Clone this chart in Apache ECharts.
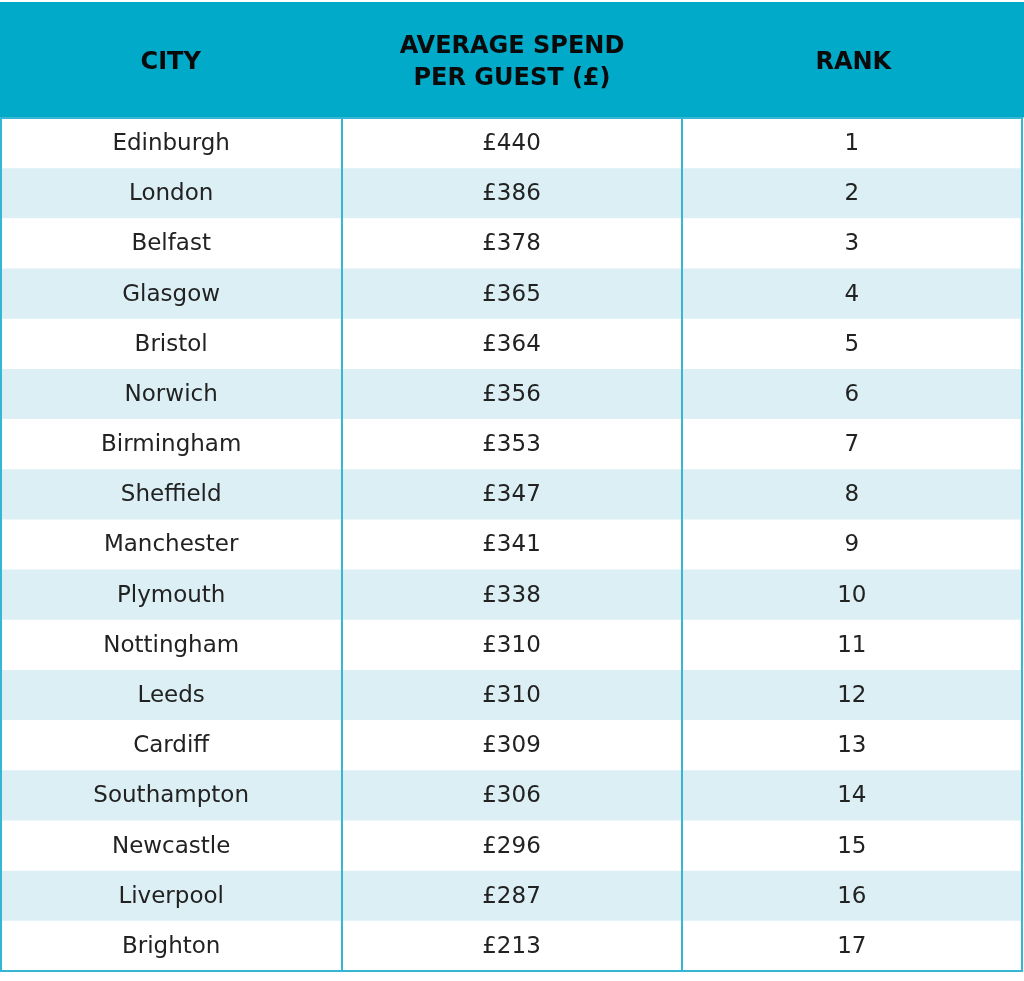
<!DOCTYPE html>
<html>
<head>
    <meta charset="UTF-8">
    <title></title>
    <script type="text/javascript" src="https://cdn.jsdelivr.net/npm/echarts@6/dist/echarts.min.js"></script>
    <style>
        html, body { margin: 0; padding: 0; background: #fff; }
        #main { width: 1024px; height: 981px; }
    </style>
</head>
<body>
<div id="main"></div>
<script>
    var headers = ['CITY', 'AVERAGE SPEND\nPER GUEST (£)', 'RANK'];
    var cities = ['Edinburgh', 'London', 'Belfast', 'Glasgow', 'Bristol', 'Norwich', 'Birmingham',
        'Sheffield', 'Manchester', 'Plymouth', 'Nottingham', 'Leeds', 'Cardiff', 'Southampton',
        'Newcastle', 'Liverpool', 'Brighton'];
    var spend = [440, 386, 378, 365, 364, 356, 353, 347, 341, 338, 310, 310, 309, 306, 296, 287, 213];
    var rank = [1, 2, 3, 4, 5, 6, 7, 8, 9, 10, 11, 12, 13, 14, 15, 16, 17];

    var teal = '#00aac8';
    var stripe = '#dbeff5';
    var line = '#35b6d2';
    var font = '"DejaVu Sans", sans-serif';

    // cells: [col, row, text]
    var headData = headers.map(function (h, i) { return [i, 0, h]; });
    var cellData = [];
    for (var r = 0; r < cities.length; r++) {
        cellData.push([0, r, cities[r]]);
        cellData.push([1, r, '£' + spend[r]]);
        cellData.push([2, r, String(rank[r])]);
    }

    function cellRenderer(list, fillFn, textStyle, dy) {
        return function (params, api) {
            var p = api.coord([api.value(0), api.value(1)]);
            var s = api.size([1, 1]);
            var row = api.value(1);
            return {
                type: 'group',
                children: [{
                    type: 'rect',
                    shape: { x: p[0] - s[0] / 2 - 0.5, y: p[1] - s[1] / 2, width: s[0] + 1, height: s[1] + 0.5 },
                    style: { fill: fillFn(row) }
                }, {
                    type: 'text',
                    style: Object.assign({
                        text: list[params.dataIndex][2], x: p[0], y: p[1] + dy,
                        align: 'center', verticalAlign: 'middle'
                    }, textStyle)
                }]
            };
        };
    }

    var myChart = echarts.init(document.getElementById('main'));
    myChart.setOption({
        animation: false,
        grid: [
            { left: 0, right: 0, top: 2, height: 115 },
            { left: 1, right: 2, top: 118, bottom: 10, show: true, z: 10,
              borderColor: line, borderWidth: 2, backgroundColor: 'transparent' }
        ],
        xAxis: [
            { gridIndex: 0, type: 'category', data: headers, show: false },
            { gridIndex: 1, type: 'category', data: ['CITY', 'SPEND', 'RANK'], z: 10,
              axisLine: { show: false }, axisTick: { show: false }, axisLabel: { show: false },
              splitLine: { show: true, lineStyle: { color: line, width: 2 } } }
        ],
        yAxis: [
            { gridIndex: 0, type: 'category', data: ['head'], show: false },
            { gridIndex: 1, type: 'category', data: cities, inverse: true, show: false }
        ],
        series: [{
            type: 'custom',
            xAxisIndex: 0,
            yAxisIndex: 0,
            data: headData,
            renderItem: cellRenderer(headData, function () { return teal; }, {
                font: 'bold 24px ' + font, fill: '#0a0a0a', lineHeight: 32
            }, 3)
        }, {
            type: 'custom',
            xAxisIndex: 1,
            yAxisIndex: 1,
            data: cellData,
            renderItem: cellRenderer(cellData, function (row) { return row % 2 ? stripe : '#ffffff'; }, {
                font: '23px ' + font, fill: '#222222'
            }, 1)
        }]
    });
</script>
</body>
</html>
